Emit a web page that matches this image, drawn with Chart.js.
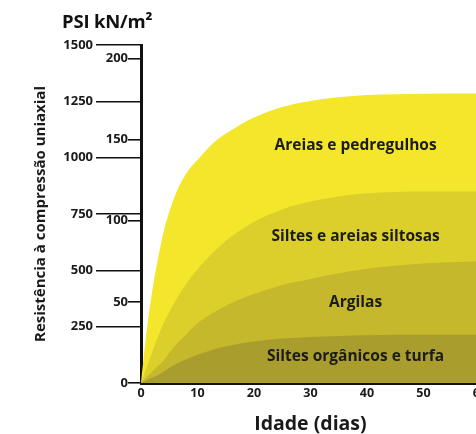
<!DOCTYPE html>
<html><head><meta charset="utf-8">
<script src="https://cdn.jsdelivr.net/npm/chart.js@4/dist/chart.umd.min.js"></script>
<style>
html,body{margin:0;padding:0;background:#fff;overflow:hidden;width:476px;height:434px;}
#wrap{position:absolute;left:0;top:0;width:500px;height:434px;}
#hdr{position:absolute;left:62px;top:8px;font:bold 18.5px "Open Sans";color:#111;white-space:nowrap;letter-spacing:-0.2px;}
</style></head><body>
<div id="wrap"><canvas id="c" width="500" height="434"></canvas></div>
<div id="hdr">PSI kN/m²</div>
<script>
// ---- data ----
const days = [0, 1, 2, 3, 4, 6, 8, 10, 13, 16, 20, 25, 30, 35, 40, 50, 60];
const areiasPedregulhos    = [0, 230, 410, 550, 670, 830, 930, 990, 1070, 1122, 1178, 1225, 1252, 1268, 1278, 1284, 1285];
const siltesAreiasSiltosas = [0, 70, 140, 205, 265, 360, 440, 505, 585, 650, 715, 770, 805, 828, 842, 850, 850];
const argilas              = [0, 25, 50, 75, 100, 165, 215, 265, 315, 355, 395, 435, 462, 487, 507, 530, 540];
const siltesOrganicos      = [0, 12, 24, 36, 50, 82, 105, 125, 150, 168, 184, 197, 204, 209, 212, 214, 214];
const bandNames = ['Siltes orgânicos e turfa', 'Argilas', 'Siltes e areias siltosas', 'Areias e pedregulhos'];
const psiTicks = [250, 500, 750, 1000, 1250, 1500];
const knTicks = [0, 50, 100, 150, 200];
const xTicks = [0, 10, 20, 30, 40, 50, 60];

// ---- styling / placement ----
const bandColors = ['#a99d2e', '#c5b82c', '#dccf2b', '#f3e62b'];
const bandLabelAt = [{x: 38, y: 118}, {x: 38, y: 357}, {x: 38, y: 650}, {x: 38, y: 1055}];
const FONT = 'Open Sans';

const series = [siltesOrganicos, argilas, siltesAreiasSiltosas, areiasPedregulhos];
const datasets = series.map((vals, i) => ({
  label: bandNames[i],
  data: days.map((d, j) => ({x: d, y: vals[j]})),
  backgroundColor: bandColors[i],
  borderColor: bandColors[i],
  borderWidth: 0,
  pointRadius: 0,
  fill: 'origin',
  cubicInterpolationMode: 'monotone'
}));

const bandLabelsPlugin = {
  id: 'bandLabels',
  afterDatasetsDraw(chart) {
    const {ctx, scales: {x, y}} = chart;
    ctx.save();
    ctx.font = 'bold 15.5px "' + FONT + '"';
    ctx.fillStyle = '#1b1b17';
    ctx.textAlign = 'center';
    ctx.textBaseline = 'middle';
    bandNames.forEach((t, i) => ctx.fillText(t, x.getPixelForValue(bandLabelAt[i].x), y.getPixelForValue(bandLabelAt[i].y)));
    ctx.restore();
  }
};

const plain = v => String(v);

new Chart(document.getElementById('c'), {
  type: 'line',
  data: {datasets},
  plugins: [bandLabelsPlugin],
  options: {
    responsive: false,
    animation: false,
    devicePixelRatio: 1,
    layout: {padding: {top: 45, right: 20, left: 0, bottom: 0}},
    plugins: {legend: {display: false}, tooltip: {enabled: false}},
    scales: {
      x: {
        type: 'linear', min: 0, max: 60,
        afterBuildTicks: s => { s.ticks = xTicks.map(v => ({value: v})); },
        afterFit: s => { s.height = 51; },
        border: {display: true, color: '#111', width: 3},
        grid: {drawOnChartArea: false, drawTicks: true, tickLength: -10, color: '#111', lineWidth: 2},
        ticks: {color: '#1a1a1a', font: {family: FONT, weight: 'bold', size: 12.5}, padding: 13, maxRotation: 0, callback: plain},
        title: {display: true, text: 'Idade (dias)', color: '#1a1a1a', font: {family: FONT, weight: 'bold', size: 19.5, lineHeight: 1}, padding: {top: 0, bottom: 0}}
      },
      y: {
        position: 'left', min: 0, max: 1500,
        afterBuildTicks: s => { s.ticks = psiTicks.map(v => ({value: v})); },
        afterFit: s => { s.width = 141; },
        border: {display: true, color: '#111', width: 3},
        grid: {drawOnChartArea: false, drawTicks: true, tickLength: 45, color: '#111', lineWidth: 1.6},
        ticks: {color: '#1a1a1a', font: {family: FONT, weight: 'bold', size: 13}, padding: 3, callback: plain},
        title: {display: true, text: 'Resistência à compressão uniaxial', color: '#1a1a1a', font: {family: FONT, weight: 'bold', size: 15, lineHeight: 1}, padding: {top: 33, bottom: 0}}
      },
      kn: {
        type: 'linear', position: {x: -2.3}, axis: 'y', min: 0, max: 208.3,
        afterBuildTicks: s => { s.ticks = knTicks.map(v => ({value: v})); },
        border: {display: false},
        grid: {drawOnChartArea: false, drawTicks: true, tickLength: -13, color: '#111', lineWidth: 1.6},
        ticks: {color: '#1a1a1a', font: {family: FONT, weight: 'bold', size: 13}, padding: 3, callback: plain}
      }
    }
  }
});
</script>
</body></html>
